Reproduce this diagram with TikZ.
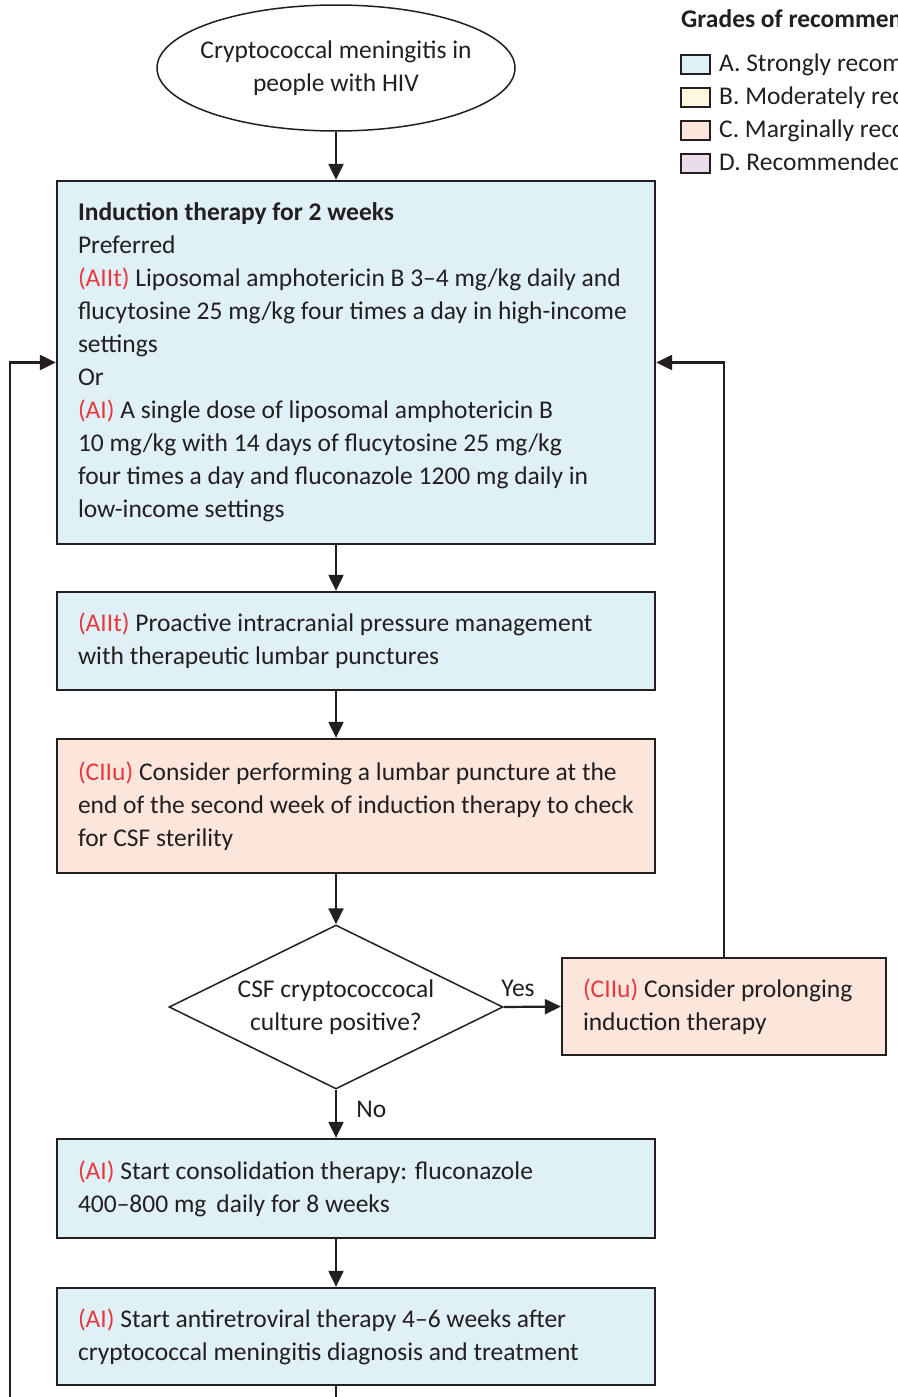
\documentclass[tikz,border=0pt]{standalone}
\usepackage{fontspec}
\setmainfont{Carlito}
\usetikzlibrary{shapes.geometric,arrows.meta}

\definecolor{ablue}{HTML}{DFF0F7}
\definecolor{byellow}{HTML}{FFF8DE}
\definecolor{cpeach}{HTML}{FCE6DC}
\definecolor{dlilac}{HTML}{EADCE8}
\definecolor{gred}{HTML}{E8383D}
\definecolor{ink}{HTML}{231F20}

\newcommand{\grade}[1]{\textcolor{gred}{(#1)}}

\tikzset{
  txt/.style={font=\fontsize{25.5}{33}\selectfont, text=ink},
  stepbox/.style={txt, draw=ink, line width=2.3pt, rectangle, align=left,
    text width=556pt, inner xsep=21pt, inner ysep=0pt, minimum width=598pt,
    execute at begin node={\spaceskip=0pt\xspaceskip=0pt\relax}},
  decide/.style={txt, draw=ink, line width=1.5pt, diamond, aspect=2.04,
    minimum width=334pt, minimum height=164pt, inner sep=0pt, align=center},
  start/.style={txt, draw=ink, line width=1.5pt, ellipse,
    minimum width=358pt, minimum height=126pt, inner xsep=-20pt, inner ysep=0pt, align=center},
  arr/.style={draw=ink, line width=2.2pt, -{Triangle[length=16pt,width=15pt]}},
  plain/.style={draw=ink, line width=2.2pt},
  lab/.style={txt},
  key/.style={draw=ink, line width=2pt, minimum width=29pt, minimum height=19pt, inner sep=0pt},
  keytxt/.style={txt, anchor=west, inner sep=0pt}
}

\begin{document}
\begin{tikzpicture}[x=1pt,y=-1pt]
\useasboundingbox (0,0) rectangle (897,1397);
\fill[white] (0,0) rectangle (897,1397);
\clip (0,0) rectangle (897,1397);

% start of the pathway
\node[start] (cm) at (336,68) {Cryptococcal meningitis in\\people with HIV};

% induction therapy
\node[stepbox, fill=ablue, minimum height=363pt] (induct) at (356,362.5)
  {\textbf{Induction therapy for 2 weeks}\\
   Preferred\\
   \grade{AIIt} Liposomal amphotericin B 3--4 mg/kg daily and\\
   flucytosine 25 mg/kg four times a day in high-income\\
   settings\\
   Or\\
   \grade{AI} A single dose of liposomal amphotericin B\\
   10 mg/kg with 14 days of flucytosine 25 mg/kg\\
   four times a day and fluconazole 1200 mg daily in\\
   low-income settings};

\node[stepbox, fill=ablue, minimum height=98pt] (icp) at (356,641)
  {\grade{AIIt} Proactive intracranial pressure management\\
   with therapeutic lumbar punctures};

\node[stepbox, fill=cpeach, minimum height=134pt] (lp) at (356,806)
  {\grade{CIIu} Consider performing a lumbar puncture at the\\
   end of the second week of induction therapy to check\\
   for CSF sterility};

\node[decide] (dia) at (336,1007) {CSF cryptococcocal\\culture positive?};

\node[stepbox, fill=cpeach, text width=282pt, minimum width=324pt, minimum height=97pt] (prolong) at (724,1006.5)
  {\grade{CIIu} Consider prolonging\\induction therapy};

\node[stepbox, fill=ablue, minimum height=99pt] (consol) at (356,1188.5)
  {\grade{AI} Start consolidation therapy: fluconazole\\
   400--800 mg\, daily for 8 weeks};

\node[stepbox, fill=ablue, minimum height=97pt] (art) at (356,1336.5)
  {\grade{AI} Start antiretroviral therapy 4--6 weeks after\\
   cryptococcal meningitis diagnosis and treatment};

% connectors
\draw[arr] (cm.south) -- (cm.south |- induct.north);
\draw[arr] (induct.south -| dia.north) -- (icp.north -| dia.north);
\draw[arr] (icp.south -| dia.north) -- (lp.north -| dia.north);
\draw[arr] (lp.south -| dia.north) -- (dia.north);
\draw[arr] (dia.east) -- node[lab, above, pos=0.25, yshift=6pt] {Yes} (prolong.west);
\draw[arr] (dia.south) -- node[lab, right, pos=0.4, xshift=16pt] {No} (consol.north -| dia.south);
\draw[arr] (consol.south -| dia.north) -- (art.north -| dia.north);
\draw[arr] (prolong.north) |- (induct.east);
\coordinate (tail) at (336,1402);
\coordinate (loop) at (10,1402);
\draw[plain] (art.south -| dia.north) -- (tail);
\draw[arr] (loop) |- (induct.west);

% grading legend
\node[txt, anchor=base west, inner sep=0pt, font=\fontsize{25.5}{28}\selectfont\bfseries] (legtitle) at (681,28) {Grades of recommendation};
\node[key, fill=ablue]   (ka) at (695,64.5) {};
\node[key, fill=byellow] (kb) at (695,97.5) {};
\node[key, fill=cpeach]  (kc) at (695,130.5) {};
\node[key, fill=dlilac]  (kd) at (695,163.5) {};
\node[keytxt] (ta) at (719,65) {A. Strongly recommended};
\node[keytxt] (tb) at (719,98) {B. Moderately recommended};
\node[keytxt] (tc) at (719,131) {C. Marginally recommended};
\node[keytxt] (td) at (719,164) {D. Recommended against};
\end{tikzpicture}
\end{document}
